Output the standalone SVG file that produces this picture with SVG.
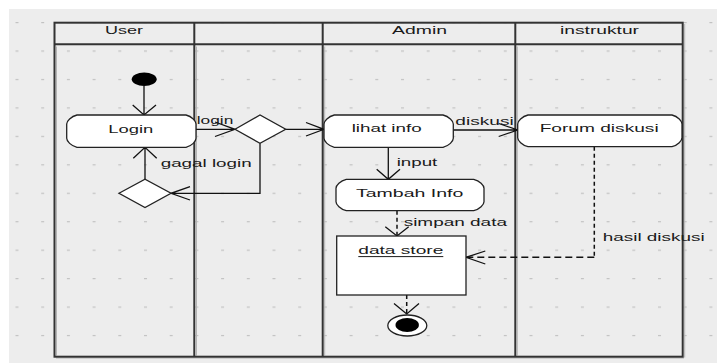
<svg xmlns="http://www.w3.org/2000/svg" width="717" height="363" viewBox="0 0 717 363">
<defs>
<pattern id="dots" x="15.5" y="22" width="25.7" height="28.45" patternUnits="userSpaceOnUse">
<rect x="0" y="0" width="3" height="1.2" fill="#c2c2c2"/>
</pattern>
</defs>
<style>
.lane{fill:none;stroke:#333;stroke-width:2}
.shadow{fill:none;stroke:#b4b4b4;stroke-width:1}
.node{fill:#fff;stroke:#222;stroke-width:1.3}
.t{font-family:"Liberation Sans",Arial,sans-serif;font-size:11px;fill:#1a1a1a}
.c{fill:none;stroke:#111;stroke-width:1.3}
.d{fill:none;stroke:#111;stroke-width:1.5;stroke-dasharray:4 3}
.dh{fill:none;stroke:#111;stroke-width:1.5;stroke-dasharray:7 4}
</style>
<rect x="0" y="0" width="717" height="363" fill="#ffffff"/>
<rect x="9" y="9" width="708" height="354" fill="#ededed"/>
<rect x="9" y="9" width="708" height="354" fill="url(#dots)"/>

<g id="swimlanes">
<path class="shadow" d="M56.5 46.5V355.5M196.5 46.5V355.5M324.7 46.5V355.5M517.3 46.5V355.5M684.7 24V357.5M56 358H684"/>
<rect class="lane" x="54.5" y="22.7" width="628.2" height="334"/>
<line class="lane" x1="54.5" y1="44.3" x2="682.7" y2="44.3"/>
<line class="lane" x1="194.3" y1="22.7" x2="194.3" y2="356.7"/>
<line class="lane" x1="322.7" y1="22.7" x2="322.7" y2="356.7"/>
<line class="lane" x1="515.3" y1="22.7" x2="515.3" y2="356.7"/>
<text class="t" x="105" y="34" textLength="38" lengthAdjust="spacingAndGlyphs">User</text>
<text class="t" x="392" y="34" textLength="55" lengthAdjust="spacingAndGlyphs">Admin</text>
<text class="t" x="560" y="34" textLength="79" lengthAdjust="spacingAndGlyphs">instruktur</text>
</g>

<g id="connectors">
<path class="c" d="M144 86V115M132.7 105L144 115L156 105"/>
<path class="c" d="M196 129.3H235M215 122L235 129.3L215 136.5"/>
<path class="c" d="M285.7 129.3H324M306 122.5L324 129.3L306 136"/>
<path class="c" d="M260 143.3V193.3H171M190 186.7L171 193.3L190 200"/>
<path class="c" d="M145 179.3V147.3M133.3 158.3L145 147.3L156.7 158.3"/>
<path class="c" d="M453.3 130H517.7M498.7 123.5L517.7 130L498.7 136.5"/>
<path class="c" d="M388.3 147.3V179.3M376.7 169.3L388.3 179.3L400 169.3"/>
<path class="d" d="M397 210.7V236"/>
<path class="c" d="M385.3 226.7L397 236L408.7 226.7"/>
<path class="d" d="M406.7 295V314"/>
<path class="c" d="M394 303.5L406.7 314L419 303.5"/>
<path class="d" d="M594.3 146.7V257.3"/>
<path class="dh" d="M594.3 257.3H466"/>
<path class="c" d="M485.3 251L466 257.3L485.3 264"/>
<text class="t" x="196.7" y="124" textLength="36.6" lengthAdjust="spacingAndGlyphs">login</text>
<text class="t" x="160.7" y="166.8" textLength="91" lengthAdjust="spacingAndGlyphs">gagal login</text>
<text class="t" x="455.3" y="125" textLength="58.4" lengthAdjust="spacingAndGlyphs">diskusi</text>
<text class="t" x="396.7" y="165.5" textLength="40.6" lengthAdjust="spacingAndGlyphs">input</text>
<text class="t" x="403.7" y="226" textLength="103.3" lengthAdjust="spacingAndGlyphs">simpan data</text>
<text class="t" x="602.7" y="240.7" textLength="102" lengthAdjust="spacingAndGlyphs">hasil diskusi</text>
</g>

<g id="start">
<ellipse cx="144.2" cy="79.3" rx="12.5" ry="6.7" fill="#000"/>
</g>
<g id="login">
<path class="node" d="M77 115H186C192 116.5 196 121 196 124V138.3C196 141.3 192 145.8 186 147.3H77C71 145.8 66.7 141.3 66.7 138.3V124C66.7 121 71 116.5 77 115Z"/>
<text class="t" x="108.3" y="132.7" textLength="45" lengthAdjust="spacingAndGlyphs">Login</text>
</g>
<g id="decision1">
<polygon class="node" points="235,129.3 260,115 285.7,129.3 260,143.3"/>
</g>
<g id="decision2">
<polygon class="node" points="119,193.3 145,179.3 171,193.3 145,207.5"/>
</g>
<g id="lihat-info">
<path class="node" d="M334.3 115H443C449 116.5 453.3 121 453.3 124V138.3C453.3 141.3 449 145.8 443 147.3H334.3C328.3 145.8 324 141.3 324 138.3V124C324 121 328.3 116.5 334.3 115Z"/>
<text class="t" x="351.7" y="132.3" textLength="70" lengthAdjust="spacingAndGlyphs">lihat info</text>
</g>
<g id="forum-diskusi">
<path class="node" d="M528 115H672C678 116.5 682 121 682 124V137.7C682 140.7 678 145.2 672 146.7H528C522 145.2 517.7 140.7 517.7 137.7V124C517.7 121 522 116.5 528 115Z"/>
<text class="t" x="539.7" y="132.3" textLength="119" lengthAdjust="spacingAndGlyphs">Forum diskusi</text>
</g>
<g id="tambah-info">
<path class="node" d="M346.3 179.3H473.7C479.7 180.8 484 185.3 484 188.3V201.7C484 204.7 479.7 209.2 473.7 210.7H346.3C340.3 209.2 336 204.7 336 201.7V188.3C336 185.3 340.3 180.8 346.3 179.3Z"/>
<text class="t" x="356" y="196.7" textLength="107.3" lengthAdjust="spacingAndGlyphs">Tambah Info</text>
</g>
<g id="data-store">
<rect class="node" x="336.7" y="236" width="129.3" height="59"/>
<text class="t" x="358.3" y="254.3" textLength="85" lengthAdjust="spacingAndGlyphs">data store</text>
<line x1="358.3" y1="256.6" x2="443.3" y2="256.6" stroke="#1a1a1a" stroke-width="1"/>
</g>
<g id="end">
<ellipse cx="407.3" cy="325.5" rx="19.5" ry="10.5" fill="#fff" stroke="#222" stroke-width="1.3"/>
<ellipse cx="407.2" cy="325" rx="11.7" ry="7" fill="#000"/>
</g>
</svg>
